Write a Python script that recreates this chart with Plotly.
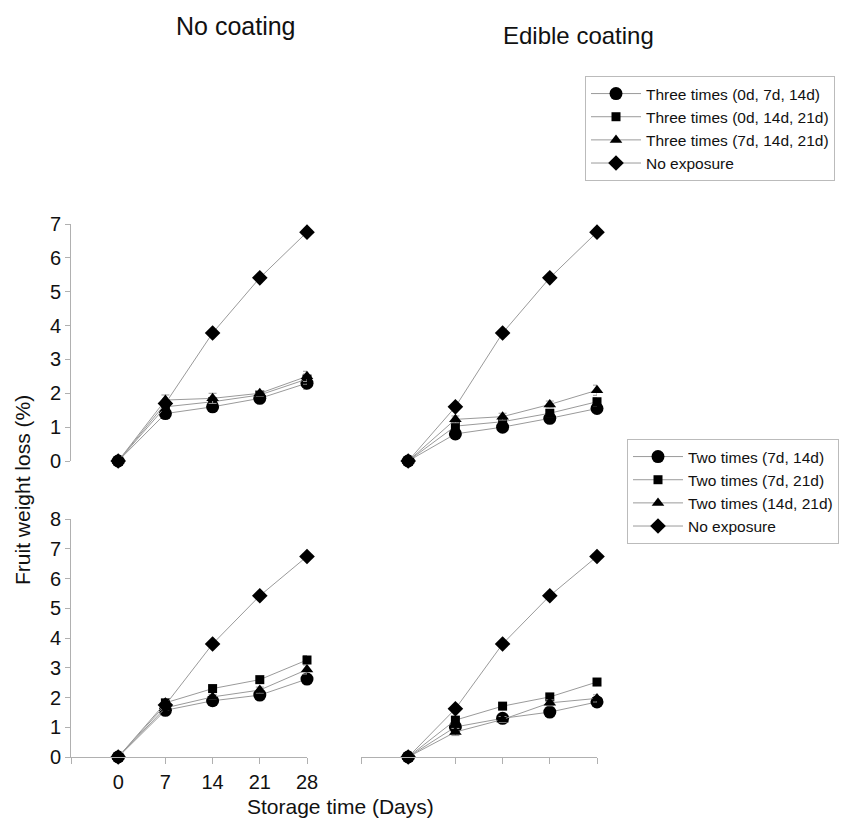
import plotly.graph_objects as go

days = [0, 7, 14, 21, 28]

# Three-times exposure (top row)
three_labels = ["Three times (0d, 7d, 14d)", "Three times (0d, 14d, 21d)",
                "Three times (7d, 14d, 21d)", "No exposure"]
nc3_vals = [
    [0, 1.40, 1.60, 1.85, 2.30],
    [0, 1.60, 1.75, 1.95, 2.42],
    [0, 1.80, 1.85, 2.00, 2.50],
    [0, 1.70, 3.78, 5.41, 6.76],
]
nc3_err = [
    [0, 0.08, 0.08, 0.08, 0.18],
    [0, 0.10, 0.10, 0.08, 0.15],
    [0, 0.15, 0.15, 0.08, 0.15],
    [0, 0.05, 0.05, 0.05, 0.05],
]
ec3_vals = [
    [0, 0.80, 1.00, 1.26, 1.55],
    [0, 1.03, 1.16, 1.41, 1.75],
    [0, 1.23, 1.31, 1.67, 2.09],
    [0, 1.60, 3.78, 5.41, 6.76],
]
ec3_err = [
    [0, 0.08, 0.08, 0.10, 0.12],
    [0, 0.08, 0.08, 0.10, 0.12],
    [0, 0.10, 0.10, 0.10, 0.15],
    [0, 0.05, 0.05, 0.05, 0.05],
]

# Two-times exposure (bottom row)
two_labels = ["Two times (7d, 14d)", "Two times (7d, 21d)",
              "Two times (14d, 21d)", "No exposure"]
nc2_vals = [
    [0, 1.57, 1.89, 2.08, 2.62],
    [0, 1.82, 2.30, 2.60, 3.26],
    [0, 1.65, 2.02, 2.25, 2.94],
    [0, 1.75, 3.80, 5.42, 6.74],
]
nc2_err = [
    [0, 0.08, 0.08, 0.10, 0.15],
    [0, 0.08, 0.08, 0.08, 0.15],
    [0, 0.08, 0.08, 0.10, 0.15],
    [0, 0.05, 0.05, 0.05, 0.05],
]
ec2_vals = [
    [0, 1.01, 1.30, 1.51, 1.85],
    [0, 1.24, 1.71, 2.02, 2.52],
    [0, 0.84, 1.26, 1.82, 1.97],
    [0, 1.62, 3.80, 5.42, 6.74],
]
ec2_err = [
    [0, 0.10, 0.08, 0.10, 0.12],
    [0, 0.10, 0.08, 0.08, 0.12],
    [0, 0.12, 0.10, 0.10, 0.12],
    [0, 0.05, 0.05, 0.05, 0.05],
]

x_ticks = [0, 7, 14, 21, 28]
tick_marks = [-7, 7, 14, 21, 28]

symbols = ["circle", "square", "triangle-up", "diamond"]
sizes = [13, 9, 11, 12]

FONT = "Liberation Sans, Arial, sans-serif"
LINE = "#9a9a9a"
AXIS = "#b0b0b0"

fig = go.Figure()

panels = [
    (nc3_vals, nc3_err, three_labels, "x", "y", "legend", True),
    (ec3_vals, ec3_err, three_labels, "x2", "y2", "legend", False),
    (nc2_vals, nc2_err, two_labels, "x3", "y3", "legend2", True),
    (ec2_vals, ec2_err, two_labels, "x4", "y4", "legend2", False),
]
for vals, errs, labels, xa, ya, leg, show in panels:
    for i in range(4):
        fig.add_trace(go.Scatter(
            x=days, y=vals[i], name=labels[i], mode="lines+markers",
            xaxis=xa, yaxis=ya, legend=leg, showlegend=show,
            line=dict(color=LINE, width=1),
            marker=dict(symbol=symbols[i], size=sizes[i], color="black"),
            error_y=dict(type="data", array=errs[i], color=LINE, thickness=1, width=4),
            cliponaxis=False,
        ))

W, H = 846, 839
xl = [71 / W, 307 / W]
xr = [361 / W, 597 / W]
yt = [1 - 461 / H, 1 - 224 / H]
yb = [1 - 757 / H, 1 - 519 / H]

hidden_x = dict(range=[-7, 28], showline=False, showgrid=False, zeroline=False,
                showticklabels=False, ticks="")
hidden_y = dict(showline=False, showgrid=False, zeroline=False,
                showticklabels=False, ticks="")
shown_y = dict(showline=True, linecolor=AXIS, linewidth=1, showgrid=False, zeroline=False,
               ticks="outside", ticklen=5, tickcolor=AXIS, dtick=1,
               tickfont=dict(size=20, color="#111", family=FONT))


def ann(text, px, py, size, angle=0):
    return dict(text=text, x=px / W, y=1 - py / H, xref="paper", yref="paper",
                xanchor="center", yanchor="middle", showarrow=False, textangle=angle,
                font=dict(size=size, family=FONT, color="#111"))


legend_common = dict(xanchor="left", yanchor="top", bordercolor="#bbbbbb", borderwidth=1,
                     bgcolor="white", itemwidth=50,
                     font=dict(size=15.5, family=FONT, color="#111"))

fig.update_layout(
    width=W, height=H, autosize=False,
    margin=dict(l=0, r=0, t=0, b=0, pad=0, autoexpand=False),
    paper_bgcolor="white", plot_bgcolor="white",
    font=dict(family=FONT, color="#111"),
    xaxis=dict(domain=xl, anchor="y", **hidden_x),
    yaxis=dict(domain=yt, anchor="x", range=[0, 7], **shown_y),
    xaxis2=dict(domain=xr, anchor="y2", **hidden_x),
    yaxis2=dict(domain=yt, anchor="x2", range=[0, 7], **hidden_y),
    xaxis3=dict(domain=xl, anchor="y3", range=[-7, 28], showline=True, linecolor=AXIS,
                showgrid=False, zeroline=False, tickmode="array", tickvals=x_ticks,
                ticks="", ticklabelstandoff=7,
                tickfont=dict(size=20, color="#111", family=FONT),
                minor=dict(tickmode="array", tickvals=tick_marks, ticks="outside",
                           ticklen=6, tickcolor=AXIS)),
    yaxis3=dict(domain=yb, anchor="x3", range=[0, 8], **shown_y),
    xaxis4=dict(domain=xr, anchor="y4", range=[-7, 28], showline=True, linecolor=AXIS,
                showgrid=False, zeroline=False, tickmode="array", tickvals=tick_marks,
                ticks="outside", ticklen=6, tickcolor=AXIS, showticklabels=False),
    yaxis4=dict(domain=yb, anchor="x4", range=[0, 8], **hidden_y),
    legend=dict(x=585 / W, y=1 - 76 / H, **legend_common),
    legend2=dict(x=627 / W, y=1 - 439 / H, **legend_common),
    annotations=[
        ann("No coating", 236, 26, 25),
        ann("Edible coating", 578, 36, 24),
        ann("Fruit weight loss (%)", 22, 490, 21, -90),
        ann("Storage time (Days)", 340, 806, 21),
    ],
)

fig.write_html("out.html")
